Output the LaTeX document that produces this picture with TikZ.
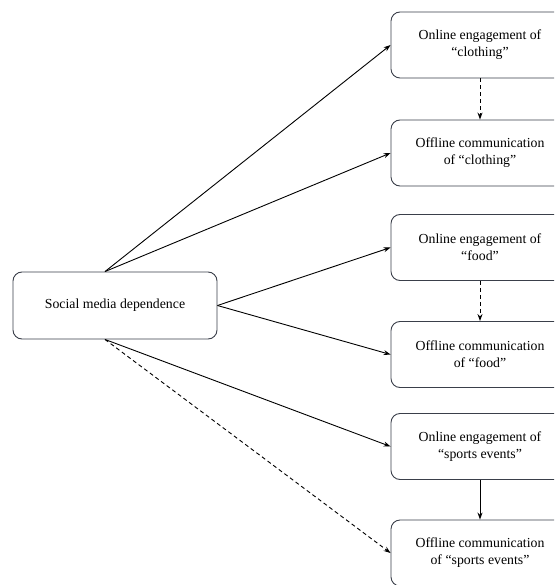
\documentclass[tikz,border=0pt]{standalone}
\usepackage{fontspec}
\setmainfont{Liberation Serif}
\usetikzlibrary{arrows.meta,calc}
\definecolor{boxline}{HTML}{3A3F4A}
\tikzset{
  box/.style={draw=boxline, line width=0.9pt, rounded corners=9pt, align=center,
    font=\fontsize{13.8}{17}\selectfont, inner sep=0pt},
  srcbox/.style={box, minimum width=204pt, minimum height=67pt},
  tgtbox/.style={box, minimum width=178pt, minimum height=66pt},
  conn/.style={line width=0.9pt, -{Stealth[length=7pt,width=5pt]}},
  dconn/.style={conn, dash pattern=on 4pt off 3pt},
}
\begin{document}
\begin{tikzpicture}[x=1pt,y=-1pt]
\useasboundingbox (0,0) rectangle (554,585);
\clip (0,0) rectangle (554,585);
\node[srcbox] (s) at (115,305.5) {Social media dependence};
\node[tgtbox] (c1) at (480,45) {Online engagement of\\``clothing''};
\node[tgtbox] (c2) at (480,153) {Offline communication\\of ``clothing''};
\node[tgtbox] (f1) at (480,247.5) {Online engagement of\\``food''};
\node[tgtbox] (f2) at (480,354.5) {Offline communication\\of ``food''};
\node[tgtbox] (e1) at (480,446.5) {Online engagement of\\``sports events''};
\node[tgtbox] (e2) at (480,553) {Offline communication\\of ``sports events''};
\coordinate (st) at ([xshift=-10pt]s.north);
\coordinate (sb) at ([xshift=-10pt]s.south);
\draw[conn] (st) -- (c1.west);
\draw[conn] (st) -- (c2.west);
\draw[conn] (s.east) -- (f1.west);
\draw[conn] (s.east) -- (f2.west);
\draw[conn] (sb) -- (e1.west);
\draw[dconn] (sb) -- (e2.west);
\draw[dconn] (c1.south) -- (c2.north);
\draw[dconn] (f1.south) -- (f2.north);
\draw[conn] (e1.south) -- (e2.north);
\end{tikzpicture}
\end{document}
